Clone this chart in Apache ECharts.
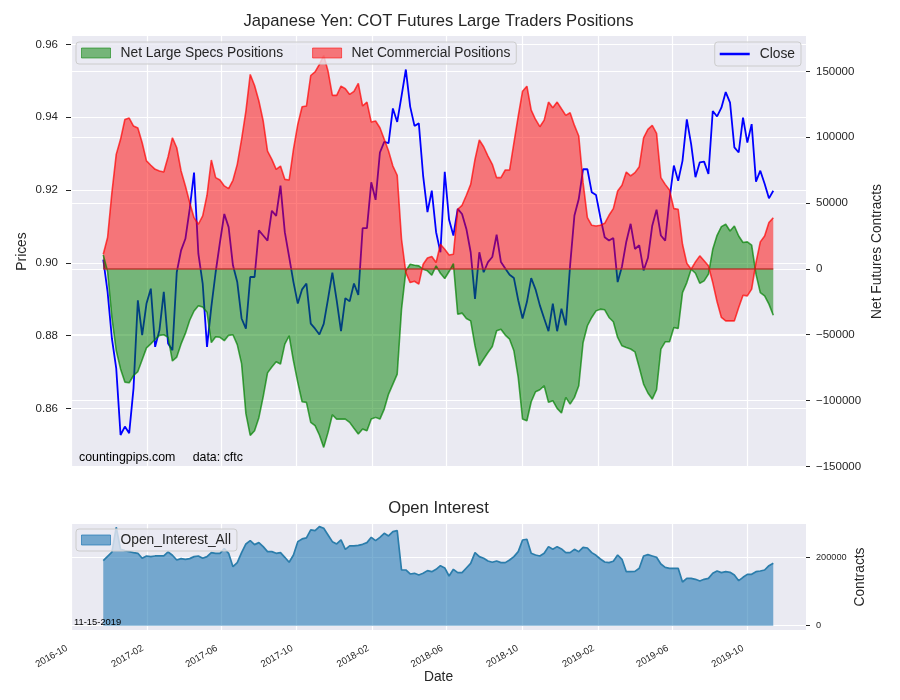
<!DOCTYPE html>
<html><head><meta charset="utf-8">
<script src="https://cdn.jsdelivr.net/npm/echarts@6/dist/echarts.min.js"></script>
<style>html,body{margin:0;padding:0;background:#fff}#c{width:900px;height:700px}</style>
</head><body><div id="c"></div>
<script>
const dates = [
'2016-11-22','2016-11-29','2016-12-06','2016-12-13','2016-12-20','2016-12-27',
'2017-01-03','2017-01-10','2017-01-17','2017-01-24','2017-01-31','2017-02-07','2017-02-14','2017-02-21','2017-02-28',
'2017-03-07','2017-03-14','2017-03-21','2017-03-28','2017-04-04','2017-04-11','2017-04-18','2017-04-25',
'2017-05-02','2017-05-09','2017-05-16','2017-05-23','2017-05-30','2017-06-06','2017-06-13','2017-06-20','2017-06-27',
'2017-07-04','2017-07-11','2017-07-18','2017-07-25','2017-08-01','2017-08-08','2017-08-15','2017-08-22','2017-08-29',
'2017-09-05','2017-09-12','2017-09-19','2017-09-26','2017-10-03','2017-10-10','2017-10-17','2017-10-24','2017-10-31',
'2017-11-07','2017-11-14','2017-11-21','2017-11-28','2017-12-05','2017-12-12','2017-12-19','2017-12-26',
'2018-01-02','2018-01-09','2018-01-16','2018-01-23','2018-01-30','2018-02-06','2018-02-13','2018-02-20','2018-02-27',
'2018-03-06','2018-03-13','2018-03-20','2018-03-27','2018-04-03','2018-04-10','2018-04-17','2018-04-24',
'2018-05-01','2018-05-08','2018-05-15','2018-05-22','2018-05-29','2018-06-05','2018-06-12','2018-06-19','2018-06-26',
'2018-07-03','2018-07-10','2018-07-17','2018-07-24','2018-07-31','2018-08-07','2018-08-14','2018-08-21','2018-08-28',
'2018-09-04','2018-09-11','2018-09-18','2018-09-25','2018-10-02','2018-10-09','2018-10-16','2018-10-23','2018-10-30',
'2018-11-06','2018-11-13','2018-11-20','2018-11-27','2018-12-04','2018-12-11','2018-12-18','2018-12-25',
'2019-01-01','2019-01-08','2019-01-15','2019-01-22','2019-01-29','2019-02-05','2019-02-12','2019-02-19','2019-02-26',
'2019-03-05','2019-03-12','2019-03-19','2019-03-26','2019-04-02','2019-04-09','2019-04-16','2019-04-23','2019-04-30',
'2019-05-07','2019-05-14','2019-05-21','2019-05-28','2019-06-04','2019-06-11','2019-06-18','2019-06-25',
'2019-07-02','2019-07-09','2019-07-16','2019-07-23','2019-07-30','2019-08-06','2019-08-13','2019-08-20','2019-08-27',
'2019-09-03','2019-09-10','2019-09-17','2019-09-24','2019-10-01','2019-10-08','2019-10-15','2019-10-22','2019-10-29',
'2019-11-05','2019-11-12'];

const closePrice = [
0.9009,0.8920,0.8792,0.8710,0.8527,0.8550,0.8532,0.8655,0.8897,0.8801,
0.8888,0.8929,0.8769,0.8815,0.8920,0.8778,0.8760,0.8974,0.9034,0.9066,
0.9148,0.9248,0.9025,0.8943,0.8769,0.8879,0.8974,0.9057,0.9134,0.9098,
0.8993,0.8947,0.8847,0.8819,0.8961,0.8961,0.9089,0.9075,0.9061,0.9143,
0.9129,0.9212,0.9084,0.9016,0.8947,0.8888,0.8927,0.8943,0.8833,0.8819,
0.8803,0.8832,0.8901,0.8973,0.8897,0.8812,0.8903,0.8894,0.8943,0.8912,
0.9095,0.9095,0.9221,0.9173,0.9303,0.9332,0.9329,0.9424,0.9387,0.9458,
0.9531,0.9429,0.9376,0.9383,0.9239,0.9139,0.9198,0.9084,0.9029,0.9250,
0.9118,0.9075,0.9148,0.9134,0.9093,0.9029,0.8901,0.9029,0.8974,0.9002,
0.9016,0.9077,0.9002,0.8984,0.8967,0.8958,0.8897,0.8847,0.8892,0.8958,
0.8927,0.8883,0.8847,0.8812,0.8888,0.8812,0.8874,0.8828,0.8993,0.9130,
0.9175,0.9257,0.9257,0.9194,0.9186,0.9125,0.9070,0.9061,0.9068,0.8947,
0.8990,0.9058,0.9107,0.9038,0.9048,0.8979,0.9013,0.9102,0.9146,0.9075,
0.9061,0.9175,0.9267,0.9225,0.9280,0.9394,0.9326,0.9235,0.9276,0.9278,
0.9244,0.9417,0.9402,0.9426,0.9469,0.9440,0.9317,0.9303,0.9399,0.9330,
0.9381,0.9223,0.9253,0.9217,0.9177,0.9198];

const netLargeSpecs = [
10600,-2000,-37000,-62000,-76000,-86000,-86500,-81000,-78000,-69000,
-60000,-57000,-53500,-50500,-50000,-52000,-70000,-67000,-57000,-49000,
-39000,-32000,-28000,-29000,-33000,-56000,-51500,-52000,-54500,-50500,
-50000,-57500,-72000,-110000,-126500,-123000,-113000,-97000,-79000,-74500,
-70500,-72300,-57200,-50800,-69800,-86200,-100900,-101400,-116600,-119100,
-126200,-135600,-124200,-110800,-114100,-114100,-114100,-116600,-121100,-125400,
-121600,-122900,-114100,-112800,-114100,-106500,-95100,-87500,-79900,-30600,
-1500,3500,2800,2300,-300,-1500,-4800,2300,-3300,-7300,
-2000,4000,-34400,-33600,-37700,-39500,-58400,-73600,-68500,-63500,
-58900,-47000,-45800,-50300,-53400,-62200,-82400,-114100,-115400,-100900,
-93300,-91800,-88800,-101400,-100100,-106000,-109500,-97600,-102700,-97600,
-88800,-55900,-43200,-36900,-31900,-30600,-31100,-36900,-40200,-52100,
-58400,-59700,-60900,-63000,-74900,-87500,-94300,-98900,-91800,-60900,
-55400,-55400,-44500,-45300,-18000,-10400,-300,-3300,-10900,-9100,
-4000,14900,25500,32100,33900,28800,32600,25000,20000,20500,
18000,-4000,-18000,-20500,-26800,-35200];

const netCommercial = [
11100,23800,57900,87000,98400,113500,114600,108500,107000,95800,
82000,78700,75600,74400,73600,85200,99600,92000,74400,63000,
50300,38900,33900,40200,55900,82700,69300,67500,63000,61000,
67300,79400,98400,119900,147700,139300,127500,112300,89500,83200,
75600,78100,68000,67500,90800,109800,123200,123700,146900,149700,
155300,162100,150200,131800,131800,138800,136800,132500,134800,140900,
123700,126700,111500,112300,107200,98400,89500,78100,71100,22500,
-2800,-10400,-9400,-11600,3500,8300,9400,4800,18700,14900,
10500,11100,45300,48300,55900,64200,83200,97900,92800,85700,
79400,69300,69300,75100,75100,95800,116100,135000,138800,120600,
113500,108000,113000,126700,122400,126700,121600,116600,118600,109000,
100900,65500,38900,33100,32600,33100,34600,40700,45800,59200,
63600,73500,70600,73100,77600,99600,106000,109000,102900,69300,
64200,59900,45800,45300,18700,4300,-300,5300,9900,6100,
2300,-10400,-25000,-36900,-39500,-39500,-39500,-29300,-20000,-20500,
-15400,4800,20500,25000,35200,38900];

const openInterest = [
190200,203000,215000,287800,223400,219500,216600,213700,211700,197100,
203900,202000,203900,203900,203900,215600,205900,192200,196100,194100,
196100,202000,203900,197100,202000,213700,211700,211700,225400,211700,
172700,184400,213700,239000,248800,237100,242900,231200,216600,216600,
211700,213700,200000,185400,206800,245800,253700,256600,280000,278000,
289800,284900,265400,245800,239000,250700,223400,233200,233200,235100,
238000,242900,258500,248800,258500,270200,262400,275100,278000,162900,
162900,151200,153200,148300,153200,161000,158000,164900,175600,169000,
145400,164900,155100,155100,168800,182400,213700,202000,197100,189300,
185400,189300,184400,184400,192200,202000,216600,250700,252700,211700,
206800,203900,211700,231200,223400,231200,224400,213700,213700,223400,
216600,229300,227300,213700,205900,195100,186300,184400,188300,206800,
194100,158000,158000,159000,167800,203900,207800,203900,200000,180500,
170700,167800,167800,167800,127800,138500,138500,135600,130700,135600,
138500,153200,160000,155100,158000,156100,148300,131700,141500,150200,
150200,158000,160000,162900,175600,182400];

const xTickLabels = ['2016-10','2017-02','2017-06','2017-10','2018-02','2018-06','2018-10','2019-02','2019-06','2019-10'];
const priceTicks = [0.86,0.88,0.90,0.92,0.94,0.96];
const netTicks = [-150000,-100000,-50000,0,50000,100000,150000];
const oiTicks = [0,200000];

const FONT = 'Liberation Sans, Arial, sans-serif';
const TXT = '#262626';
const toTs = s => Date.UTC(+s.slice(0,4), +s.slice(5,7)-1, s.length > 7 ? +s.slice(8,10) : 1);
const xs = dates.map(toTs);
const xTickVals = xTickLabels.map(toTs);
const pair = arr => xs.map((x,i)=>[x, arr[i]]);
const xMin = Date.UTC(2016,8,30,18);
const xMax = Date.UTC(2020,0,4);
const fmtDate = v => { const d = new Date(v); return d.getUTCFullYear() + '-' + String(d.getUTCMonth()+1).padStart(2,'0'); };
const fmtNet = v => v < 0 ? '\u2212' + Math.abs(v) : String(v);
const white = {show:true, lineStyle:{color:'#ffffff', width:1.2}};

function xAxisCfg(grid, showLabels){
  return {
    type:'value', gridIndex:grid, min:xMin, max:xMax, scale:true,
    axisLine:{show:false},
    axisTick:{show:false, customValues:xTickVals},
    axisLabel:{show:showLabels, customValues:xTickVals, formatter:fmtDate, rotate:30, fontSize:9.6, color:TXT, margin:15, padding:[0,5,0,0], fontFamily:FONT},
    splitLine:white,
    name: showLabels ? 'Date' : '', nameLocation:'middle', nameGap:40, nameMoveOverlap:false,
    nameTextStyle:{fontSize:13.8, color:TXT, fontFamily:FONT}
  };
}

const legendBase = {
  backgroundColor:'rgba(234,234,242,0.8)', borderColor:'#cccccc', borderWidth:1, borderRadius:3,
  textStyle:{fontSize:13.8, color:TXT, fontFamily:FONT, padding:[0,0,0,5]}, selectedMode:false, orient:'horizontal'
};

const option = {
  animation:false,
  textStyle:{fontFamily:FONT},
  grid:[
    {left:71, right:94, top:36, height:431, show:true, backgroundColor:'#EAEAF2', borderWidth:0, outerBoundsMode:'none'},
    {left:71, right:94, top:524, height:106, show:true, backgroundColor:'#EAEAF2', borderWidth:0, outerBoundsMode:'none'}
  ],
  xAxis:[xAxisCfg(0,false), xAxisCfg(1,true)],
  yAxis:[
    {type:'value', gridIndex:0, position:'left', min:0.8439, max:0.9623,
     axisLine:{show:false},
     axisTick:{show:true, customValues:priceTicks, length:5, lineStyle:{color:TXT}},
     axisLabel:{customValues:priceTicks, formatter:v=>v.toFixed(2), fontSize:11.5, color:TXT, margin:13, fontFamily:FONT},
     splitLine:white,
     name:'Prices', nameLocation:'middle', nameRotate:90, nameGap:42, nameMoveOverlap:false,
     nameTextStyle:{fontSize:13.8, color:TXT, fontFamily:FONT}},
    {type:'value', gridIndex:0, position:'right', min:-150500, max:176900,
     axisLine:{show:false},
     axisTick:{show:true, customValues:netTicks, length:4, lineStyle:{color:TXT}},
     axisLabel:{customValues:netTicks, formatter:fmtNet, fontSize:11.5, color:TXT, margin:10, fontFamily:FONT},
     splitLine:white,
     name:'Net Futures Contracts', nameLocation:'middle', nameRotate:90, nameGap:64, nameMoveOverlap:false,
     nameTextStyle:{fontSize:13.8, color:TXT, fontFamily:FONT}},
    {type:'value', gridIndex:1, position:'right', min:-12600, max:297400,
     axisLine:{show:false},
     axisTick:{show:true, customValues:oiTicks, length:4, lineStyle:{color:TXT}},
     axisLabel:{customValues:oiTicks, formatter:v=>String(v), fontSize:9.2, color:TXT, margin:10, fontFamily:FONT},
     splitLine:white,
     name:'Contracts', nameLocation:'middle', nameRotate:90, nameGap:47, nameMoveOverlap:false,
     nameTextStyle:{fontSize:13.8, color:TXT, fontFamily:FONT}}
  ],
  legend:[
    Object.assign({}, legendBase, {
      left:76, top:42, itemWidth:29, itemHeight:10, itemGap:29, padding:[4,6,4,5],
      data:[
        {name:'Net Large Specs Positions', icon:'rect', itemStyle:{color:'rgba(0,128,0,0.5)', borderColor:'rgba(0,128,0,0.55)', borderWidth:1}},
        {name:'Net Commercial Positions', icon:'rect', itemStyle:{color:'rgba(255,0,0,0.5)', borderColor:'rgba(255,0,0,0.55)', borderWidth:1}}
      ]}),
    Object.assign({}, legendBase, {
      right:99, top:42, itemWidth:30, itemHeight:2.5, padding:[5,6,5,5],
      data:[{name:'Close', icon:'rect', itemStyle:{color:'#0000ff', borderWidth:0}}]}),
    Object.assign({}, legendBase, {
      left:76, top:529, itemWidth:29, itemHeight:10, padding:[4,6,4,5],
      data:[{name:'Open_Interest_All', icon:'rect', itemStyle:{color:'rgba(31,119,180,0.58)', borderColor:'rgba(31,119,180,0.7)', borderWidth:1}}]})
  ],
  series:[
    {name:'Close', type:'line', xAxisIndex:0, yAxisIndex:0, data:pair(closePrice), symbol:'none', showSymbol:false,
     lineStyle:{color:'#0000ff', width:1.8}, itemStyle:{color:'#0000ff'}, z:2},
    {name:'Net Large Specs Positions', type:'line', xAxisIndex:0, yAxisIndex:1, data:pair(netLargeSpecs), symbol:'none', showSymbol:false,
     lineStyle:{color:'rgba(0,128,0,0.7)', width:1.6}, itemStyle:{color:'rgba(0,128,0,0.7)'},
     areaStyle:{color:'rgba(0,128,0,0.5)', opacity:1, origin:0}, z:3,
     markLine:{silent:true, symbol:['none','none'], label:{show:false}, animation:false,
       lineStyle:{color:'rgba(180,45,35,0.85)', width:1.5, type:'solid'},
       data:[[{coord:[xs[0],0]},{coord:[xs[xs.length-1],0]}]]}},
    {name:'Net Commercial Positions', type:'line', xAxisIndex:0, yAxisIndex:1, data:pair(netCommercial), symbol:'none', showSymbol:false,
     lineStyle:{color:'rgba(255,0,0,0.7)', width:1.6}, itemStyle:{color:'rgba(255,0,0,0.7)'},
     areaStyle:{color:'rgba(255,0,0,0.5)', opacity:1, origin:0}, z:3},
    {name:'Open_Interest_All', type:'line', xAxisIndex:1, yAxisIndex:2, data:pair(openInterest), symbol:'none', showSymbol:false,
     lineStyle:{color:'#2b7dab', width:1.7}, itemStyle:{color:'#2b7dab'},
     areaStyle:{color:'rgba(31,119,180,0.58)', opacity:1, origin:0}, z:3}
  ],
  graphic:[
    {type:'text', x:438.5, y:21, style:{text:'Japanese Yen: COT Futures Large Traders Positions', fontSize:16.6, fontFamily:FONT, fill:TXT, align:'center', verticalAlign:'middle'}},
    {type:'text', x:438.5, y:508, style:{text:'Open Interest', fontSize:16.6, fontFamily:FONT, fill:TXT, align:'center', verticalAlign:'middle'}},
    {type:'text', x:79, y:458, z:10, style:{text:'countingpips.com     data: cftc', fontSize:12.4, fontFamily:FONT, fill:'#000000', align:'left', verticalAlign:'middle'}},
    {type:'text', x:74, y:622, z:10, style:{text:'11-15-2019', fontSize:9.4, fontFamily:FONT, fill:'#000000', align:'left', verticalAlign:'middle'}}
  ]
};

const chart = echarts.init(document.getElementById('c'), null, {renderer:'canvas'});
chart.setOption(option);
</script>
</body></html>
